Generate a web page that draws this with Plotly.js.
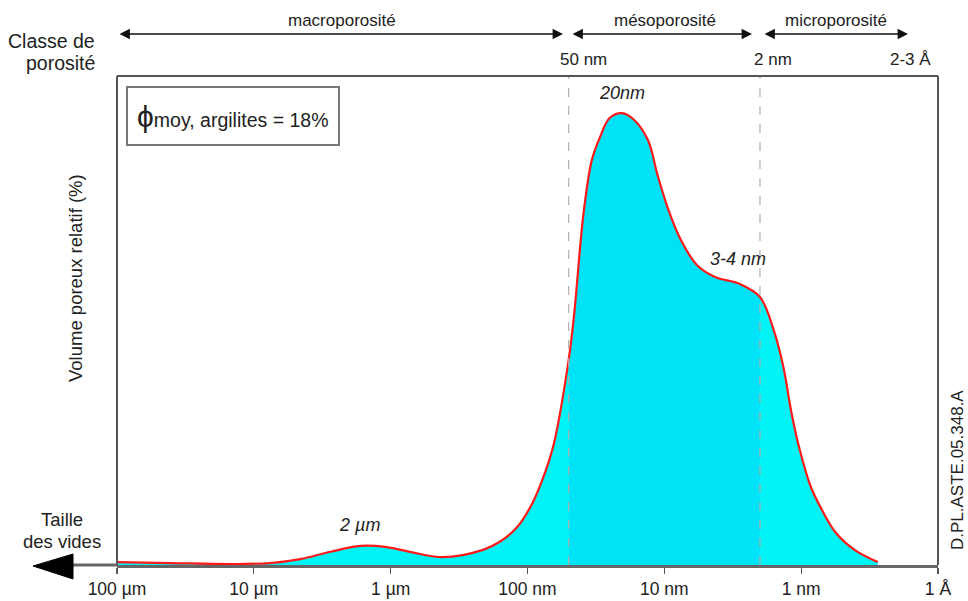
<!DOCTYPE html>
<html>
<head>
<meta charset="utf-8">
<script src="https://cdn.plot.ly/plotly-3.0.1.min.js"></script>
<style>
html,body{margin:0;padding:0;background:#fff;}
#chart{width:968px;height:601px;}
</style>
</head>
<body>
<div id="chart"></div>
<script>
// x = -log10(pore size in metres): 4 = 100 µm ... 10 = 1 Å
const tickPos = [4, 5, 6, 7, 8, 9, 10];
const sizeLabels = ['100 µm', '10 µm', '1 µm', '100 nm', '10 nm', '1 nm', '1 Å'];
const classBounds = [7.301, 8.699]; // 50 nm, 2 nm
const xPos = [4.00, 4.39, 4.85, 5.12, 5.34, 5.56, 5.78, 5.96, 6.14, 6.38, 6.675, 6.80, 6.92, 7.02, 7.10, 7.19, 7.301, 7.34, 7.41, 7.47, 7.53, 7.60, 7.69, 7.78, 7.88, 7.95, 8.03, 8.12, 8.24, 8.37, 8.55, 8.699, 8.80, 8.87, 8.93, 8.99, 9.07, 9.14, 9.25, 9.39, 9.56];
const volume = [0.6, 0.4, 0.2, 0.4, 1.2, 2.7, 3.9, 3.7, 2.7, 1.6, 3.1, 4.8, 7.6, 11.8, 16.8, 24.5, 42.0, 51.0, 72.0, 82.8, 87.5, 91.4, 92.4, 91.0, 86.9, 79.8, 72.6, 66.5, 61.3, 58.9, 57.5, 54.8, 48.0, 40.5, 31.0, 23.5, 16.0, 11.9, 6.7, 3.1, 0.6];
const peakLabels = [
  {x: 7.69, y: 96.5, text: '20nm'},
  {x: 8.54, y: 62.6, text: '3-4 nm'},
  {x: 5.77, y: 8.2, text: '2 µm'}
];

const mesoX = [], mesoY = [];
xPos.forEach((v, i) => { if (v >= classBounds[0] && v <= classBounds[1]) { mesoX.push(v); mesoY.push(volume[i]); } });

const W = 968, H = 601, L = 117, R = 938, T = 76, B = 565;
const px = p => (p - L) / (R - L);
const py = p => (B - p) / (B - T);
const FONT = 'Liberation Sans, Arial, sans-serif';

const traces = [
  {x: xPos, y: volume, type: 'scatter', mode: 'lines', line: {width: 0, shape: 'spline'}, fill: 'tozeroy', fillcolor: '#00f4f6', hoverinfo: 'skip', showlegend: false},
  {x: mesoX, y: mesoY, type: 'scatter', mode: 'lines', line: {width: 0, shape: 'spline'}, fill: 'tozeroy', fillcolor: '#00e3f6', hoverinfo: 'skip', showlegend: false},
  {x: xPos, y: volume, type: 'scatter', mode: 'lines', line: {color: '#ff1a1a', width: 2.2, shape: 'spline'}, hoverinfo: 'skip', showlegend: false}
];

const annotations = [];
function txt(x, y, t, size, extra) {
  annotations.push(Object.assign({x: px(x), y: py(y), xref: 'paper', yref: 'paper', xanchor: 'center', yanchor: 'middle', text: t, showarrow: false, font: {family: FONT, size: size, color: '#222'}}, extra || {}));
}
// peak labels
peakLabels.forEach(p => annotations.push({x: p.x, y: p.y, xref: 'x', yref: 'y', xanchor: 'center', yanchor: 'middle', text: '<i>' + p.text + '</i>', showarrow: false, font: {family: FONT, size: 18, color: '#222'}}));
// porosity class arrows
function dblArrow(x0, x1, y) {
  annotations.push({x: px(x1), y: py(y), xref: 'paper', yref: 'paper', ax: -(x1 - x0), ay: 0, axref: 'pixel', ayref: 'pixel', text: '', showarrow: true, arrowside: 'end+start', arrowhead: 2, arrowsize: 1.6, arrowwidth: 1.3, arrowcolor: '#111'});
}
dblArrow(118, 563, 34);
dblArrow(571, 752, 34);
dblArrow(763, 908, 34);
txt(342, 20, 'macroporosité', 17);
txt(665, 20, 'mésoporosité', 17);
txt(836, 20, 'microporosité', 17);
txt(583, 60, '50 nm', 17);
txt(773, 60, '2 nm', 17);
txt(910, 60, '2-3 Å', 17);
txt(97, 41, 'Classe de', 19.5, {xanchor: 'right'});
txt(97, 63, 'porosité', 19.5, {xanchor: 'right'});
txt(62, 519, 'Taille', 18.5);
txt(62, 541, 'des vides', 18.5);
txt(75, 278, 'Volume poreux relatif (%)', 18.5, {textangle: -90});
txt(957, 470, 'D.PL.ASTE.05.348.A', 17, {textangle: -90});
txt(135, 116, '<span style="font-size:30px">ϕ</span>moy, argilites = 18%', 19.5, {xanchor: 'left'});

const shapes = [
  // dashed class bounds
  {type: 'line', xref: 'x', yref: 'paper', x0: classBounds[0], x1: classBounds[0], y0: 0, y1: 1, line: {color: '#b0b0b0', width: 1.2, dash: 'dash'}, layer: 'above'},
  {type: 'line', xref: 'x', yref: 'paper', x0: classBounds[1], x1: classBounds[1], y0: 0, y1: 1, line: {color: '#b0b0b0', width: 1.2, dash: 'dash'}, layer: 'above'},
  // frame
  {type: 'line', xref: 'paper', yref: 'paper', x0: 0, x1: 1, y0: 1, y1: 1, line: {color: '#555', width: 2}},
  {type: 'line', xref: 'paper', yref: 'paper', x0: 0, x1: 0, y0: 0, y1: 1, line: {color: '#555', width: 2}},
  {type: 'line', xref: 'paper', yref: 'paper', x0: 1, x1: 1, y0: 0, y1: 1, line: {color: '#555', width: 2}},
  // legend box
  {type: 'rect', xref: 'paper', yref: 'paper', x0: px(127), x1: px(339), y0: py(145), y1: py(87), line: {color: '#777', width: 2}, fillcolor: 'rgba(0,0,0,0)'},
  // left arrow
  {type: 'line', xref: 'paper', yref: 'paper', x0: px(70), x1: 0, y0: 0, y1: 0, line: {color: '#666', width: 3}},
  {type: 'path', xref: 'paper', yref: 'paper', path: `M ${px(33)} ${py(566)} L ${px(73)} ${py(554)} L ${px(73)} ${py(579)} Z`, fillcolor: '#000', line: {color: '#000', width: 1}}
];

const layout = {
  width: W, height: H,
  margin: {l: L, r: W - R, t: T, b: H - B, pad: 0},
  paper_bgcolor: '#fff', plot_bgcolor: '#fff',
  font: {family: FONT, size: 14, color: '#222'},
  xaxis: {range: [4, 10], tickvals: tickPos, ticktext: sizeLabels, showgrid: false, zeroline: false,
    showline: true, linecolor: '#666', linewidth: 3, ticks: 'outside', ticklen: 6, tickwidth: 1.2, tickcolor: '#555',
    tickfont: {family: FONT, size: 17.5, color: '#222'}, fixedrange: true},
  yaxis: {range: [0, 100], showticklabels: false, showgrid: false, zeroline: false, ticks: '', showline: false, fixedrange: true},
  showlegend: false,
  annotations: annotations,
  shapes: shapes
};

Plotly.newPlot('chart', traces, layout, {staticPlot: true, displayModeBar: false});
</script>
</body>
</html>
